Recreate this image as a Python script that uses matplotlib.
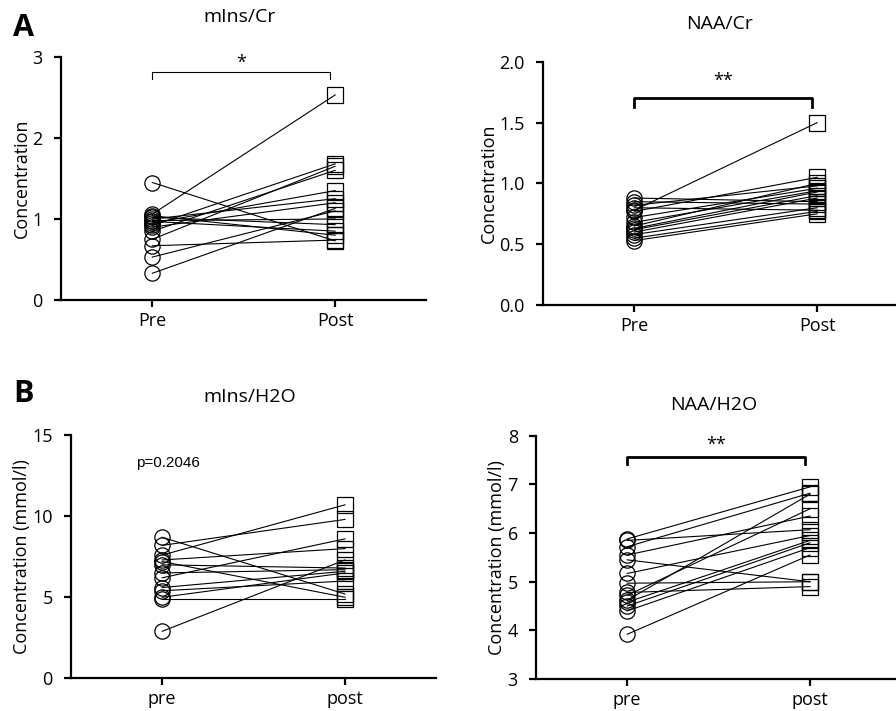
import numpy as np
import matplotlib.pyplot as plt

plt.rcParams['font.family'] = ['Open Sans', 'DejaVu Sans']

# A: ratios to Cr
mins_cr_pre = [1.45, 0.33, 0.53, 0.67, 0.75, 0.85, 0.92, 0.95, 0.97, 1.00, 1.02, 1.04, 1.06, 0.98, 0.90]
mins_cr_post = [0.73, 1.13, 1.10, 0.74, 1.65, 1.60, 1.68, 1.35, 0.85, 1.25, 0.93, 0.80, 2.53, 1.00, 1.20]

naa_cr_pre = [0.78, 0.88, 0.85, 0.82, 0.80, 0.77, 0.72, 0.65, 0.63, 0.62, 0.60, 0.58, 0.55, 0.53, 0.68]
naa_cr_post = [1.50, 0.85, 0.83, 0.98, 0.78, 1.05, 0.96, 1.00, 0.93, 0.90, 0.88, 0.80, 0.77, 0.75, 0.94]

# B: absolute concentrations
mins_h2o_pre = [8.7, 8.2, 7.6, 7.3, 7.2, 7.0, 6.5, 6.2, 5.6, 5.4, 5.0, 4.9, 2.9]
mins_h2o_post = [5.2, 9.8, 10.7, 8.0, 5.0, 6.8, 6.7, 8.6, 6.6, 6.0, 6.5, 4.9, 7.3]

naa_h2o_pre = [5.88, 5.85, 5.72, 5.55, 5.45, 5.17, 4.97, 4.78, 4.72, 4.62, 4.58, 4.50, 4.40, 3.92]
naa_h2o_post = [6.95, 6.07, 6.82, 6.35, 5.00, 5.95, 5.00, 4.90, 6.50, 6.80, 5.85, 5.80, 5.70, 5.55]

fig = plt.figure(figsize=(8.96, 7.11), dpi=100)

panels = [
    # left, bottom, data pre, data post, ylim, yticks, ticklabels, title, ylabel, xlabels
    (0.068, 0.578, mins_cr_pre, mins_cr_post, (0, 3), [0, 1, 2, 3], ['0', '1', '2', '3'],
     'mIns/Cr', 'Concentration', ['Pre', 'Post']),
    (0.606, 0.571, naa_cr_pre, naa_cr_post, (0, 2), [0, 0.5, 1, 1.5, 2], ['0.0', '0.5', '1.0', '1.5', '2.0'],
     'NAA/Cr', 'Concentration', ['Pre', 'Post']),
    (0.079, 0.046, mins_h2o_pre, mins_h2o_post, (0, 15), [0, 5, 10, 15], ['0', '5', '10', '15'],
     'mIns/H2O', 'Concentration (mmol/l)', ['pre', 'post']),
    (0.598, 0.045, naa_h2o_pre, naa_h2o_post, (3, 8), [3, 4, 5, 6, 7, 8], ['3', '4', '5', '6', '7', '8'],
     'NAA/H2O', 'Concentration (mmol/l)', ['pre', 'post']),
]

axes = []
for left, bottom, pre, post, ylim, yt, ytl, title, ylab, xl in panels:
    ax = fig.add_axes([left, bottom, 0.408, 0.342])
    for a, b in zip(pre, post):
        ax.plot([0, 1], [a, b], color='black', lw=0.8, zorder=2)
    ax.plot(np.zeros(len(pre)), pre, 'o', ms=11, mfc='none', mec='black', mew=0.9, zorder=3)
    ax.plot(np.ones(len(post)), post, 's', ms=11, mfc='none', mec='black', mew=0.9, zorder=3)
    ax.set_xlim(-0.5, 1.5)
    ax.set_ylim(*ylim)
    ax.set_yticks(yt)
    ax.set_yticklabels(ytl, fontsize=13)
    ax.set_xticks([0, 1])
    ax.set_xticklabels(xl, fontsize=13)
    ax.set_ylabel(ylab, fontsize=13, labelpad=1)
    ax.spines['top'].set_visible(False)
    ax.spines['right'].set_visible(False)
    ax.spines['left'].set_linewidth(1.6)
    ax.spines['bottom'].set_linewidth(1.6)
    ax.tick_params(width=1.6, length=5)
    ax.tick_params(axis='y', pad=8)
    ax.patch.set_alpha(0)
    axes.append(ax)

ax1, ax2, ax3, ax4 = axes

# titles
fig.text(240 / 896, 1 - 17 / 711, 'mIns/Cr', ha='center', va='center', fontsize=14)
fig.text(720 / 896, 1 - 24 / 711, 'NAA/Cr', ha='center', va='center', fontsize=14)
fig.text(250 / 896, 1 - 397 / 711, 'mIns/H2O', ha='center', va='center', fontsize=14)
fig.text(714 / 896, 1 - 405 / 711, 'NAA/H2O', ha='center', va='center', fontsize=14)

# panel letters
fig.text(23 / 896, 1 - 28 / 711, 'A', ha='center', va='center', fontsize=22, fontweight='bold')
fig.text(23 / 896, 1 - 394 / 711, 'B', ha='center', va='center', fontsize=22, fontweight='bold')

# significance brackets
def bracket(ax, y, h, text, lw, ty):
    ax.plot([0, 0, 0.97, 0.97], [y - h, y, y, y - h], color='black', lw=lw, clip_on=False)
    ax.text(0.485, ty, text, ha='center', va='center', fontsize=13)

bracket(ax1, 2.81, 0.08, '*', 0.8, 2.93)
bracket(ax2, 1.70, 0.07, '**', 2.0, 1.84)
bracket(ax4, 7.57, 0.15, '**', 2.0, 7.82)

ax3.text(0.03, 13.3, 'p=0.2046', ha='center', va='center', fontsize=11,
         family=['Liberation Sans', 'DejaVu Sans'])

fig.savefig('out.png', dpi=100)
